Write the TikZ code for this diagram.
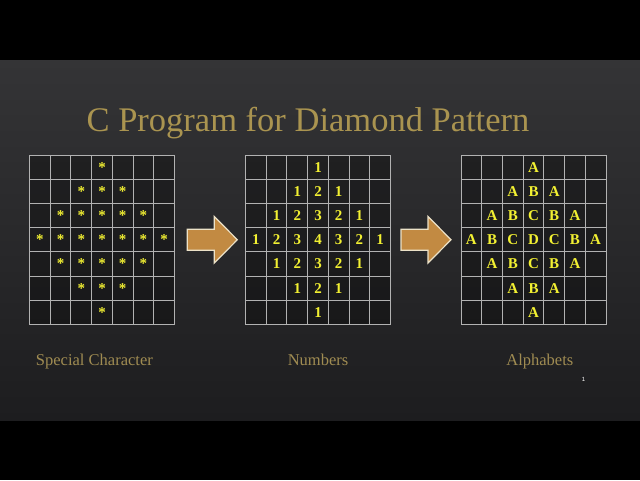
\documentclass[tikz,border=0pt]{standalone}
\usepackage{fontspec}
\setmainfont{Liberation Serif}
\setsansfont{Liberation Sans}
\usetikzlibrary{positioning}

\definecolor{slidetop}{RGB}{52,52,54}
\definecolor{slidebottom}{RGB}{29,29,31}
\definecolor{titlegold}{RGB}{170,148,80}
\definecolor{captiongold}{RGB}{160,140,82}
\definecolor{entryyellow}{RGB}{242,240,50}
\definecolor{linegray}{RGB}{178,178,178}
\definecolor{arrowfill}{RGB}{194,138,66}
\definecolor{arrowedge}{RGB}{236,226,200}

% what a filled cell shows for its value #1 (1..4)
\newcommand\starof[1]{*}
\newcommand\numof[1]{#1}
\newcommand\letterof[1]{\ifcase#1\or A\or B\or C\or D\fi}

\begin{document}
\begin{tikzpicture}[%
    x=1pt, y=-1pt,          % work in pixels, y going down
    node distance=71pt,     % gap between the grids
    ]
% -------------------------------------------------
% Styles
\tikzset{
  patterngrid/.style={draw=linegray, line width=1pt, fill=black, fill opacity=.3,
    minimum width=145pt, minimum height=169.5pt, inner sep=0pt, outer sep=0pt},
  cellline/.style={draw=linegray, line width=1pt},
  entry/.style={text=entryyellow, inner sep=0pt, font=\bfseries\fontsize{15}{15}\selectfont},
  titletext/.style={text=titlegold, anchor=base, font=\fontsize{34.5}{34.5}\selectfont},
  caption/.style={text=captiongold, anchor=base, font=\fontsize{16.5}{16.5}\selectfont},
  pagenum/.style={text=white, font=\sffamily\fontsize{6}{6}\selectfont},
  arrowbody/.style={fill=arrowfill, draw=arrowedge, line width=1.2pt, line join=miter},
  pics/blockarrow/.style={code={
    \draw[arrowbody] (0,-10.5) -- (27,-10.5) -- (27,-23.3) -- (50,0)
      -- (27,23.3) -- (27,10.5) -- (0,10.5) -- cycle;
  }},
}
\useasboundingbox (0,0) rectangle (640,480);
% -------------------------------------------------
% Slide
\fill[black] (0,0) rectangle (640,480);
\shade[top color=slidetop, bottom color=slidebottom] (0,60) rectangle (640,420);

\node[titletext] (title) at (308,131.7) {C Program for Diamond Pattern};

% -------------------------------------------------
% The three grids
\node[patterngrid] (gstar) at (102,239.75) {};
\node[patterngrid, right=of gstar] (gnum) {};
\node[patterngrid, right=70.5pt of gnum] (galpha) {};

% cell lines and the diamond of entries
\foreach \g/\fmt in {gstar/\starof, gnum/\numof, galpha/\letterof}{
  \begin{scope}[shift={(\g.north west)}]
    \foreach \i in {1,...,6}{
      \draw[cellline] (\i*145/7,0) -- (\i*145/7,169.5);
      \draw[cellline] (0,\i*169.5/7) -- (145,\i*169.5/7);
    }
    \foreach \r in {0,...,6}
      \foreach \c in {0,...,6}{
        \pgfmathtruncatemacro\k{3-abs(\r-3)}
        \pgfmathtruncatemacro\v{\k+1-abs(\c-3)}
        \ifnum\v>0
          \node[entry] (\g-\r-\c) at ({(\c+.5)*145/7},{(\r+.5)*169.5/7}) {\fmt{\v}};
        \fi
      }
  \end{scope}
}

% -------------------------------------------------
% Arrows between the grids
\pic (arrone) at ([xshift=12.8pt]gstar.east) {blockarrow};
\pic (arrtwo) at ([xshift=10.5pt]gnum.east) {blockarrow};

% Captions
\node[caption] (capstar) at ([xshift=-7.6pt,yshift=-40.5pt]gstar.south) {Special Character};
\node[caption] (capnum) at ([yshift=-40.5pt]gnum.south) {Numbers};
\node[caption] (capalpha) at ([xshift=6.3pt,yshift=-40.5pt]galpha.south) {Alphabets};

\node[pagenum] (page) at (583.5,379) {1};
% -------------------------------------------------
\end{tikzpicture}
\end{document}
